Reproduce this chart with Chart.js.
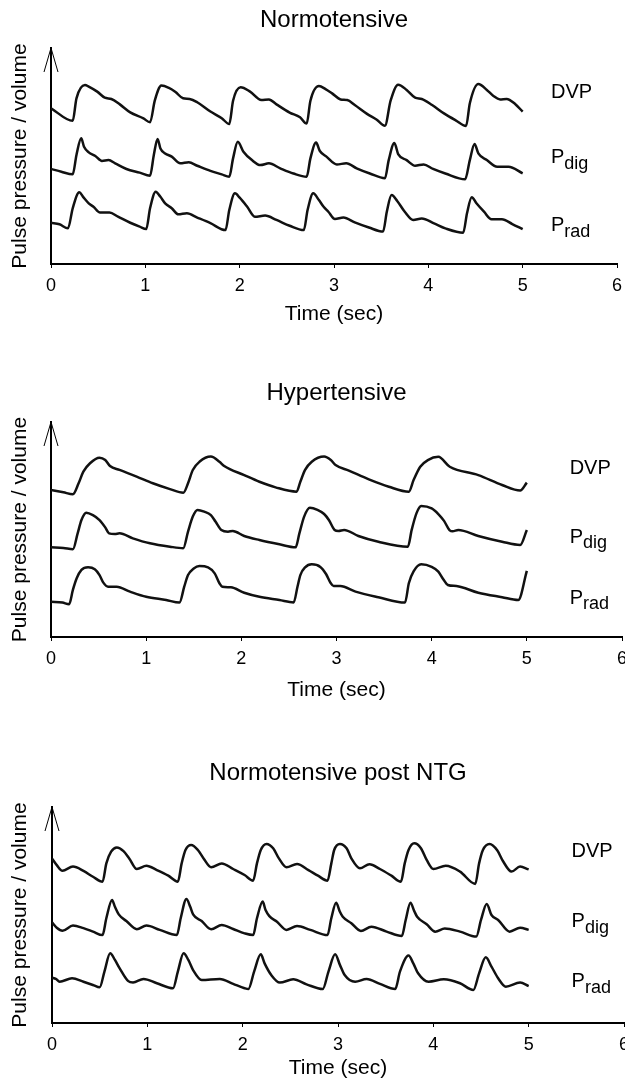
<!DOCTYPE html>
<html>
<head>
<meta charset="utf-8">
<script src="https://cdn.jsdelivr.net/npm/chart.js@4.4.1/dist/chart.umd.min.js"></script>
<style>
  body { margin: 0; background: #fff; width: 625px; height: 1086px; overflow: hidden; position: relative; }
  canvas { position: absolute; left: 0; }
</style>
</head>
<body>
<canvas id="c1"></canvas>
<canvas id="c2"></canvas>
<canvas id="c3"></canvas>
<script>
// tick labels on the time axis
const timeTicks = [0, 1, 2, 3, 4, 5, 6];
const traceNames = ['DVP', ['P', 'dig'], ['P', 'rad']];

// [time (sec), pulse level]
const normDVP = [[0,72.1],[0.23,66.3],[0.27,76.7],[0.36,82.9],[0.40,82.1],[0.49,79.8],[0.57,77.0],[0.64,76.4],[0.73,73.9],[0.84,70.2],[0.98,67.4],[1.05,65.6],[1.10,75.6],[1.17,82.6],[1.25,81.5],[1.32,79.6],[1.40,76.7],[1.47,76.4],[1.55,74.9],[1.69,70.6],[1.81,67.5],[1.89,64.8],[1.93,75.6],[2.01,81.8],[2.11,79.8],[2.23,75.9],[2.31,76.2],[2.39,73.9],[2.53,70.1],[2.64,67.9],[2.71,65.0],[2.75,75.6],[2.84,82.4],[2.91,81.0],[2.98,79.0],[3.07,76.2],[3.14,75.9],[3.22,73.6],[3.35,69.5],[3.45,66.9],[3.54,64.0],[3.60,75.6],[3.68,83.0],[3.77,80.6],[3.86,77.0],[3.93,76.4],[4.04,73.6],[4.17,69.6],[4.29,66.5],[4.40,63.9],[4.44,74.4],[4.53,83.3],[4.62,80.6],[4.69,77.8],[4.76,76.2],[4.83,76.4],[4.92,74.1],[5.00,70.5]];
const normPdig = [[0,44.0],[0.11,42.7],[0.23,41.5],[0.27,50.5],[0.32,58.2],[0.35,54.3],[0.40,51.7],[0.47,50.0],[0.54,47.7],[0.61,48.1],[0.68,46.6],[0.80,44.0],[0.94,42.3],[1.05,40.9],[1.09,50.5],[1.13,57.9],[1.16,53.5],[1.21,51.2],[1.28,49.7],[1.37,46.6],[1.46,47.1],[1.55,45.5],[1.69,43.1],[1.81,41.5],[1.89,40.4],[1.93,48.9],[1.98,56.6],[2.04,52.0],[2.13,48.1],[2.22,45.8],[2.31,46.6],[2.43,44.3],[2.57,41.9],[2.71,40.4],[2.75,48.9],[2.81,56.2],[2.85,52.3],[2.92,49.7],[3.03,46.1],[3.13,46.6],[3.24,44.3],[3.38,41.9],[3.54,39.7],[3.58,48.1],[3.64,56.0],[3.68,50.9],[3.77,48.1],[3.86,45.5],[3.95,46.1],[4.05,44.0],[4.18,41.9],[4.39,39.2],[4.44,48.1],[4.49,55.6],[4.53,51.2],[4.62,48.1],[4.73,45.0],[4.85,45.0],[5.00,42.0]];
const normPrad = [[0,19.1],[0.09,18.4],[0.18,16.5],[0.23,25.8],[0.30,33.2],[0.34,31.1],[0.40,28.1],[0.45,26.5],[0.52,23.8],[0.62,23.8],[0.71,21.9],[0.84,19.1],[0.94,17.3],[1.01,16.2],[1.05,25.8],[1.11,33.5],[1.16,31.1],[1.21,28.1],[1.28,25.8],[1.35,23.0],[1.44,23.5],[1.55,21.5],[1.69,18.9],[1.85,15.7],[1.89,25.0],[1.95,32.7],[2.00,30.7],[2.08,26.5],[2.16,21.9],[2.27,22.4],[2.39,20.4],[2.53,17.7],[2.68,15.7],[2.72,25.0],[2.78,32.7],[2.84,29.6],[2.89,26.5],[2.94,24.2],[3.01,20.8],[3.10,21.5],[3.22,19.3],[3.37,16.9],[3.52,15.0],[3.56,24.2],[3.61,31.9],[3.67,29.2],[3.75,24.2],[3.84,20.4],[3.93,21.1],[4.06,18.8],[4.18,16.5],[4.37,14.5],[4.41,23.5],[4.46,30.9],[4.51,28.1],[4.59,24.2],[4.67,20.7],[4.78,20.7],[4.89,18.5],[5.00,16.1]];

const hypDVP = [[0,68.4],[0.13,67.3],[0.23,66.4],[0.29,71.5],[0.34,76.9],[0.41,80.8],[0.51,83.4],[0.57,82.3],[0.62,79.5],[0.72,77.7],[0.90,74.6],[1.07,71.5],[1.25,68.8],[1.39,67.1],[1.44,71.5],[1.49,77.7],[1.56,81.5],[1.68,83.9],[1.77,81.5],[1.82,79.5],[2.03,75.3],[2.19,72.2],[2.36,69.6],[2.58,67.6],[2.62,72.2],[2.67,77.7],[2.74,81.5],[2.87,83.9],[2.94,82.3],[2.99,80.0],[3.13,77.4],[3.34,73.3],[3.55,69.9],[3.76,67.6],[3.81,73.0],[3.88,79.2],[3.96,82.3],[4.07,83.8],[4.19,79.2],[4.49,75.3],[4.74,70.7],[4.93,68.1],[5.00,71.8]];
const hypPdig = [[0,41.7],[0.13,41.4],[0.23,40.8],[0.28,48.2],[0.32,54.4],[0.37,57.8],[0.44,56.7],[0.51,54.4],[0.57,51.0],[0.61,48.2],[0.67,47.9],[0.72,48.2],[0.86,45.9],[1.04,43.6],[1.25,42.0],[1.39,41.3],[1.44,49.0],[1.49,56.0],[1.54,59.1],[1.61,58.3],[1.68,56.7],[1.73,53.6],[1.79,49.8],[1.86,49.0],[1.91,49.3],[2.03,47.0],[2.19,45.1],[2.40,43.1],[2.57,41.7],[2.61,48.2],[2.66,56.0],[2.72,60.1],[2.80,59.1],[2.87,57.2],[2.92,54.4],[2.98,49.8],[3.02,49.3],[3.08,49.8],[3.23,47.0],[3.44,44.3],[3.75,42.0],[3.79,49.8],[3.84,57.5],[3.89,60.9],[4.00,59.8],[4.07,57.2],[4.13,54.0],[4.19,49.6],[4.22,49.2],[4.28,49.8],[4.49,47.0],[4.74,44.3],[4.93,42.8],[5.00,49.8]];
const hypPrad = [[0,16.4],[0.12,16.0],[0.19,15.2],[0.23,21.9],[0.27,27.3],[0.32,31.2],[0.39,32.4],[0.46,31.5],[0.51,28.8],[0.55,25.3],[0.60,23.4],[0.69,23.4],[0.83,21.1],[1.00,18.7],[1.21,17.2],[1.35,16.0],[1.40,23.4],[1.44,28.8],[1.50,31.9],[1.56,33.0],[1.65,32.4],[1.72,29.6],[1.77,25.0],[1.80,23.4],[1.89,23.1],[2.03,20.6],[2.19,18.7],[2.40,17.2],[2.55,16.1],[2.59,23.4],[2.62,28.8],[2.67,32.4],[2.74,33.8],[2.83,32.6],[2.89,29.3],[2.94,25.0],[2.97,23.7],[3.04,23.7],[3.20,21.1],[3.44,18.5],[3.72,16.0],[3.76,25.0],[3.81,30.5],[3.89,33.8],[4.00,32.6],[4.07,30.4],[4.12,27.0],[4.17,24.2],[4.26,23.7],[4.49,20.6],[4.74,18.5],[4.91,17.2],[5.00,30.8]];

const ntgDVP = [[0,76.2],[0.05,73.1],[0.11,70.5],[0.22,72.4],[0.33,70.4],[0.43,67.7],[0.53,65.4],[0.57,73.9],[0.62,79.3],[0.68,81.3],[0.75,79.6],[0.81,76.2],[0.89,71.3],[0.99,72.8],[1.10,70.8],[1.22,68.2],[1.32,65.4],[1.36,73.9],[1.40,80.1],[1.46,82.4],[1.53,80.1],[1.59,76.2],[1.67,72.1],[1.78,73.9],[1.90,71.3],[2.02,68.5],[2.11,65.9],[2.15,73.9],[2.19,80.1],[2.25,82.9],[2.32,80.9],[2.38,76.2],[2.46,72.1],[2.57,73.6],[2.69,70.8],[2.79,68.2],[2.89,65.9],[2.93,73.9],[2.96,80.1],[3.02,82.9],[3.09,80.9],[3.14,76.2],[3.23,71.6],[3.33,73.5],[3.44,71.3],[3.56,68.2],[3.66,65.4],[3.70,73.9],[3.74,80.1],[3.80,83.2],[3.87,80.9],[3.93,75.5],[4.00,71.3],[4.13,72.8],[4.28,70.1],[4.44,64.4],[4.48,73.9],[4.52,80.1],[4.59,82.9],[4.67,80.0],[4.73,75.0],[4.82,70.1],[4.91,72.4],[5.00,71.1]];
const ntgPdig = [[0,46.6],[0.05,44.1],[0.11,42.7],[0.22,45.1],[0.33,43.9],[0.43,42.3],[0.53,40.7],[0.57,48.5],[0.63,56.9],[0.66,53.8],[0.70,50.3],[0.78,47.2],[0.89,43.4],[0.99,45.1],[1.13,43.1],[1.31,40.7],[1.35,48.5],[1.41,57.4],[1.45,53.8],[1.48,50.3],[1.57,47.2],[1.67,43.4],[1.78,45.4],[1.90,43.5],[2.02,41.5],[2.11,40.7],[2.15,48.5],[2.21,56.2],[2.24,52.3],[2.28,49.5],[2.36,46.9],[2.46,43.1],[2.57,44.9],[2.71,43.1],[2.89,40.7],[2.93,48.5],[2.98,55.7],[3.02,51.5],[3.05,49.2],[3.14,46.2],[3.24,42.6],[3.35,44.6],[3.51,42.3],[3.67,40.3],[3.71,47.7],[3.76,55.7],[3.80,51.8],[3.83,49.2],[3.93,45.7],[4.02,42.3],[4.12,43.8],[4.28,42.3],[4.45,40.0],[4.50,47.7],[4.56,55.1],[4.61,50.0],[4.68,47.7],[4.80,42.3],[4.91,44.1],[5.00,43.1]];
const ntgPrad = [[0,21.0],[0.04,20.4],[0.08,19.1],[0.21,20.7],[0.33,19.1],[0.43,17.6],[0.50,16.5],[0.55,23.8],[0.61,32.3],[0.66,29.2],[0.71,25.3],[0.80,19.4],[0.85,18.8],[0.96,20.4],[1.10,18.4],[1.27,16.1],[1.32,23.8],[1.38,32.3],[1.43,29.2],[1.48,24.5],[1.57,19.9],[1.76,20.4],[1.90,18.1],[2.02,16.1],[2.06,15.7],[2.12,23.8],[2.19,31.8],[2.23,27.6],[2.30,22.2],[2.39,18.7],[2.53,20.2],[2.67,17.9],[2.84,15.7],[2.90,23.8],[2.97,31.8],[3.02,26.9],[3.07,22.2],[3.18,19.1],[3.30,20.4],[3.44,18.1],[3.60,15.7],[3.65,23.8],[3.74,31.2],[3.79,27.6],[3.84,23.0],[3.95,19.1],[4.11,20.2],[4.28,18.4],[4.42,15.3],[4.48,23.0],[4.55,30.4],[4.61,26.1],[4.68,20.7],[4.76,16.8],[4.91,18.7],[5.00,17.1]];

Chart.defaults.font.family = '"Liberation Sans", Arial, sans-serif';
Chart.defaults.color = '#000';

// layout of each panel (pixels relative to its canvas)
const panels = [
  { id: 'c1', title: 'Normotensive', top: 0, h: 340, areaTop: 48, axis: 264, timeC: 314, left: 51, right: 8,
    labelX: 5.30, labelY: [79.6, 49.1, 17.6], series: [normDVP, normPdig, normPrad] },
  { id: 'c2', title: 'Hypertensive', top: 373, h: 340, areaTop: 49, axis: 264, timeC: 317, left: 51, right: 3,
    labelX: 5.45, labelY: [78.6, 46.5, 18.1], series: [hypDVP, hypPdig, hypPrad] },
  { id: 'c3', title: 'Normotensive post NTG', top: 753, h: 333, areaTop: 54, axis: 270, timeC: 315, left: 52, right: 1,
    labelX: 5.45, labelY: [79.2, 46.8, 19.0], series: [ntgDVP, ntgPdig, ntgPrad] }
];

// y-axis arrow head and trace names
const extras = {
  id: 'extras',
  afterDraw(chart, args, opts) {
    const { ctx, chartArea: a, scales: { x, y } } = chart;
    ctx.save();
    ctx.strokeStyle = '#000';
    ctx.lineWidth = 1;
    ctx.beginPath();
    ctx.moveTo(a.left - 7, a.top + 24);
    ctx.lineTo(a.left, a.top);
    ctx.lineTo(a.left + 7, a.top + 24);
    ctx.stroke();

    ctx.fillStyle = '#000';
    ctx.textAlign = 'left';
    ctx.textBaseline = 'middle';
    traceNames.forEach((name, i) => {
      const px = x.getPixelForValue(opts.labelX);
      const py = y.getPixelForValue(opts.labelY[i]);
      const main = Array.isArray(name) ? name[0] : name;
      ctx.font = '20px "Liberation Sans", Arial';
      ctx.fillText(main, px, py);
      if (Array.isArray(name)) {
        const w = ctx.measureText(main).width;
        ctx.font = '18px "Liberation Sans", Arial';
        ctx.fillText(name[1], px + w, py + 6);
      }
    });
    ctx.restore();
  }
};

panels.forEach(p => {
  const cv = document.getElementById(p.id);
  cv.width = 625;
  cv.height = p.h;
  cv.style.top = p.top + 'px';
  cv.style.width = '625px';
  cv.style.height = p.h + 'px';

  new Chart(cv, {
    type: 'line',
    data: {
      datasets: p.series.map(s => ({
        data: s.map(([t, v]) => ({ x: t, y: v })),
        borderColor: '#111',
        borderWidth: 2.5,
        pointRadius: 0,
        fill: false,
        cubicInterpolationMode: 'monotone'
      }))
    },
    options: {
      responsive: false,
      devicePixelRatio: 1,
      animation: false,
      events: [],
      layout: { padding: { left: 0, right: p.right, top: 0, bottom: 0 } },
      plugins: {
        legend: { display: false },
        tooltip: { enabled: false },
        title: {
          display: true,
          fullSize: false,
          text: p.title,
          color: '#000',
          font: { size: 24, weight: 'normal' },
          padding: { top: 20 - 14.4, bottom: p.areaTop - 20 - 14.4 }
        },
        extras: { labelX: p.labelX, labelY: p.labelY }
      },
      scales: {
        x: {
          type: 'linear',
          min: 0,
          max: 6,
          afterBuildTicks: s => { s.ticks = timeTicks.map(v => ({ value: v })); },
          afterFit: s => { s.height = p.h - p.axis; s.paddingLeft = 0; s.paddingRight = 0; },
          ticks: { font: { size: 18 }, color: '#000', padding: 7, autoSkip: false, maxRotation: 0 },
          grid: { display: true, drawOnChartArea: false, drawTicks: true, tickLength: 4, color: '#000', lineWidth: 1 },
          border: { display: true, color: '#000', width: 2 },
          title: {
            display: true,
            text: 'Time (sec)',
            color: '#000',
            font: { size: 21 },
            padding: { top: 0, bottom: p.h - p.timeC - 12.6 }
          }
        },
        y: {
          min: 0,
          max: 100,
          afterFit: s => { s.width = p.left; s.paddingTop = 0; s.paddingBottom = 0; },
          ticks: { display: false },
          grid: { display: false },
          border: { display: true, color: '#000', width: 2 },
          title: {
            display: true,
            text: 'Pulse pressure / volume',
            color: '#000',
            font: { size: 21 },
            padding: { top: 7.4, bottom: 0 }
          }
        }
      }
    },
    plugins: [extras]
  });
});
</script>
</body>
</html>
